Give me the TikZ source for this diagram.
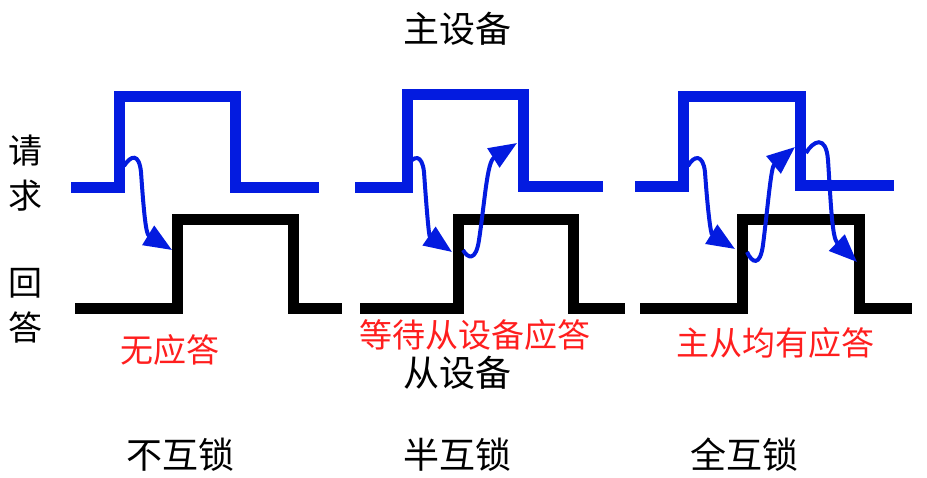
\documentclass[tikz,border=0pt]{standalone}
\usepackage{fontspec}
\newfontfamily\cjk{Noto Sans CJK SC}
\usetikzlibrary{arrows.meta}
\definecolor{sigblue}{RGB}{3,27,224}
\definecolor{lblred}{RGB}{255,30,30}
\tikzset{
  bluesig/.style={draw=sigblue,line width=11pt,line join=miter},
  blacksig/.style={draw=black,line width=11pt,line join=miter},
  handshake/.style={draw=sigblue,line width=4pt,-{Triangle[length=28pt,width=22pt]}},
  blacklbl/.style={font=\cjk\fontsize{36}{40}\selectfont,text=black,inner sep=0pt},
  sidelbl/.style={font=\cjk\fontsize{34}{40}\selectfont,text=black,inner sep=0pt},
  redlbl/.style={font=\cjk\fontsize{33}{38}\selectfont,text=lblred,inner sep=0pt},
}
\begin{document}
\begin{tikzpicture}[x=1pt,y=-1pt]
\useasboundingbox (0,0) rectangle (927,477);
% panel 1
\draw[bluesig] (71,187) -- (119,187) -- (119,96) -- (235,96) -- (235,187) -- (319,187);
\draw[blacksig] (75,308) -- (177,308) -- (177,219) -- (293,219) -- (293,308) -- (342,308);
% panel 2
\draw[bluesig] (355,187) -- (407,187) -- (407,94) -- (523,94) -- (523,186) -- (603,186);
\draw[blacksig] (360,308) -- (458,308) -- (458,219) -- (573,219) -- (573,308) -- (625,308);
% panel 3
\draw[bluesig] (635,186) -- (683,186) -- (683,96) -- (800,96) -- (800,185) -- (894,185);
\draw[blacksig] (640,308) -- (742,308) -- (742,219) -- (859,219) -- (859,308) -- (912,308);
% arrow coordinates
\coordinate (a1s) at (124,166); \coordinate (a1e) at (172,250);
\coordinate (b1s) at (407,166); \coordinate (b1e) at (452,252);
\coordinate (b2s) at (463,250); \coordinate (b2e) at (517,143);
\coordinate (c1s) at (688,166); \coordinate (c1e) at (735,249);
\coordinate (c2s) at (747,252); \coordinate (c2e) at (795,147);
\coordinate (c3s) at (806,153); \coordinate (c3e) at (857,262);
% arrows
\draw[handshake] (a1s) .. controls (131,155) and (139,153) .. (141,172) .. controls (144,215) and (146,234) .. (a1e);
\draw[handshake] (b1s) .. controls (414,155) and (422,154) .. (424,172) .. controls (427,215) and (429,236) .. (b1e);
\draw[handshake] (b2s) .. controls (468,259) and (476,261) .. (479,240) .. controls (485,200) and (487,162) .. (b2e);
\draw[handshake] (c1s) .. controls (694,155) and (703,154) .. (705,172) .. controls (708,215) and (711,234) .. (c1e);
\draw[handshake] (c2s) .. controls (752,263) and (760,267) .. (763,245) .. controls (768,205) and (771,167) .. (c2e);
\draw[handshake] (c3s) .. controls (813,141) and (826,134) .. (828,160) .. controls (831,205) and (832,238) .. (c3e);
% labels
\node[blacklbl] (master) at (457,29) {主设备};
\node[sidelbl] (qing) at (26,151) {请};
\node[sidelbl] (qiu) at (26,196) {求};
\node[sidelbl] (hui) at (26,283) {回};
\node[sidelbl] (da) at (26,328) {答};
\node[blacklbl] (slave) at (457,373) {从设备};
\node[blacklbl] (t1) at (180,455) {不互锁};
\node[blacklbl] (t2) at (457,455) {半互锁};
\node[blacklbl] (t3) at (744,455) {全互锁};
\node[redlbl] (r1) at (170,350) {无应答};
\node[redlbl] (r2) at (475,335) {等待从设备应答};
\node[redlbl] (r3) at (775,343) {主从均有应答};
\end{tikzpicture}
\end{document}
